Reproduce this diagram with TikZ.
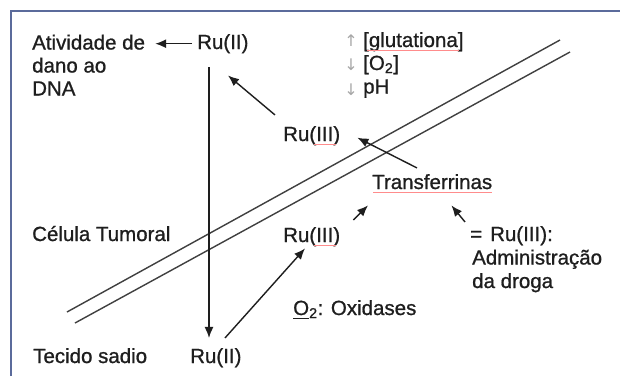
\documentclass[tikz,border=0pt]{standalone}
\usepackage{fontspec}
\setmainfont{Liberation Sans}[FakeBold=0.9]
\newfontfamily\symfont{DejaVu Sans}
\usetikzlibrary{arrows.meta}
\definecolor{framecol}{HTML}{5B6B9B}
\definecolor{ink}{HTML}{1E1E1E}
\tikzset{
  txt/.style={inner sep=0pt, anchor=base west, text=ink, font=\fontsize{20.5}{23}\selectfont},
  arr/.style={draw=ink, line width=1.4pt, -{Latex[length=11pt,width=9pt]}},
  membrane/.style={draw=ink!85, line width=1.4pt},
  frameline/.style={draw=framecol, line width=1.8pt},
  spell/.style={draw=red!45!white, line width=0.7pt},
  uline/.style={draw=ink, line width=0.9pt},
  smallarr/.style={inner sep=0pt, text=gray!70, font=\symfont\fontsize{16}{16}\selectfont},
}
\begin{document}
\begin{tikzpicture}[x=1pt,y=-1pt]
\useasboundingbox (0,0) rectangle (620,376);
\fill[white] (0,0) rectangle (620,376);
% frame
\draw[frameline] (11,376) -- (11,11) -- (620,11);

% membrane (double line)
\draw[membrane] (67,312) -- (560,40);
\draw[membrane] (75,323) -- (570,52);

% texts
\node[txt] (atv1) at (32,49.5) {Atividade de};
\node[txt] (atv2) at (32,72.5) {dano ao};
\node[txt] (atv3) at (32,95.5) {DNA};
\node[txt] (ru2a) at (197,49) {Ru(II)};
\node[smallarr] (up1) at (351,41) {↑};
\node[smallarr] (dn1) at (351,65) {↓};
\node[smallarr] (dn2) at (351,90) {↓};
\node[txt] (glu) at (363,47) {[glutationa]};
\node[txt] (o2c) at (363,70) {[O\textsubscript{2}]};
\node[txt] (ph) at (363,93.5) {pH};
\node[txt] (ru3a) at (283,141) {Ru(III)};
\node[txt] (tr) at (372,189) {Transferrinas};
\node[txt] (cel) at (32,241) {Célula Tumoral};
\node[txt] (ru3b) at (283,242) {Ru(III)};
\node[txt] (adm1) at (470,241) {=\hspace{8pt}Ru(III):};
\node[txt] (adm2) at (472,264.5) {Administração};
\node[txt] (adm3) at (472,288) {da droga};
\node[txt] (ox) at (293,315) {O\textsubscript{2}: Oxidases};
\node[txt] (tec) at (33,363) {Tecido sadio};
\node[txt] (ru2b) at (190,363) {Ru(II)};

% underlines
\draw[spell] (367,50.5) -- (459,50.5);
\draw[spell] (373,192.5) -- (492,192.5);
\draw[spell] (314,144.5) -- (336,144.5);
\draw[spell] (314,245.5) -- (336,245.5);
\draw[uline] (293,318.5) -- (309,318.5);

% connectors
\draw[arr] ([xshift=-5pt]ru2a.west) -- ([xshift=10pt]atv1.east |- ru2a.west);
\coordinate (vt) at ([xshift=12pt,yshift=-14pt]ru2a.south west);
\draw[arr] (vt) -- ([yshift=10pt]vt |- ru2b.north);
\draw[arr] ([xshift=-8pt,yshift=11pt]ru3a.north west) -- ([xshift=31pt,yshift=-22pt]ru2a.south west);
\draw[arr] ([xshift=45pt,yshift=6pt]tr.north west) -- ([xshift=17pt,yshift=-2pt]ru3a.east);
\draw[arr] ([xshift=13pt,yshift=7pt]ru3b.north east) -- ([xshift=-4pt,yshift=-16pt]tr.south west);
\draw[arr] ([xshift=-5pt,yshift=4pt]adm1.north west) -- ([xshift=-41pt,yshift=-16pt]tr.south east);
\draw[arr] ([xshift=35pt,yshift=10pt]ru2b.north west) -- ([xshift=22pt,yshift=-2pt]ru3b.south west);
\end{tikzpicture}
\end{document}
